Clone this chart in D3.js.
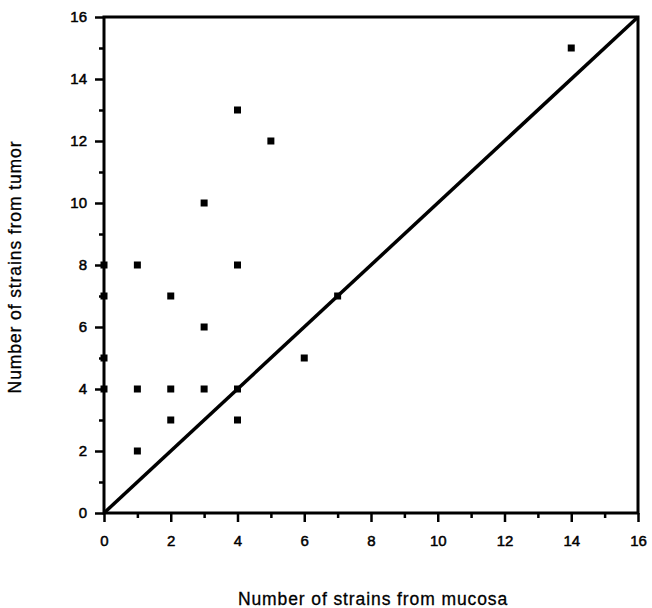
<!DOCTYPE html>
<html>
<head>
<meta charset="utf-8">
<script src="https://cdn.jsdelivr.net/npm/d3@7"></script>
<style>
  body { margin: 0; background: #fff; }
  text { font-family: "Liberation Sans", Arial, sans-serif; fill: #000; }
</style>
</head>
<body>
<div id="graph"></div>
<script>
// strains isolated from mucosa (x) vs from tumor (y)
const mucosa = [0, 0, 0, 0, 1, 1, 1, 2, 2, 2, 3, 3, 3, 4, 4, 4, 4, 5, 6, 7, 14];
const tumor  = [8, 7, 5, 4, 8, 4, 2, 7, 4, 3, 10, 6, 4, 13, 8, 4, 3, 12, 5, 7, 15];
const majorTicks = [0, 2, 4, 6, 8, 10, 12, 14, 16];
const minorTicks = [1, 3, 5, 7, 9, 11, 13, 15];

const width = 652, height = 608;
const margin = {left: 104, right: 14, top: 17, bottom: 95};

const svg = d3.select("#graph")
  .append("svg")
  .attr("width", width)
  .attr("height", height);

const x = d3.scaleLinear().domain([0, 16]).range([margin.left, width - margin.right]);
const y = d3.scaleLinear().domain([0, 16]).range([height - margin.bottom, margin.top]);

// minor ticks first, then major with labels
svg.append("g")
  .attr("transform", `translate(0,${y(0)})`)
  .call(d3.axisBottom(x).tickValues(minorTicks).tickSize(5).tickFormat(""))
  .call(g => g.select(".domain").remove())
  .selectAll("line").attr("stroke-width", 2.5);

svg.append("g")
  .attr("transform", `translate(${x(0)},0)`)
  .call(d3.axisLeft(y).tickValues(minorTicks).tickSize(5).tickFormat(""))
  .call(g => g.select(".domain").remove())
  .selectAll("line").attr("stroke-width", 2.5);

const xAxis = svg.append("g")
  .attr("transform", `translate(0,${y(0)})`)
  .call(d3.axisBottom(x).tickValues(majorTicks).tickSize(9).tickPadding(13))
  .call(g => g.select(".domain").remove());
xAxis.selectAll("line").attr("stroke-width", 2.5);
xAxis.selectAll("text")
  .attr("font-size", 15)
  .attr("stroke", "#000").attr("stroke-width", 0.5)
  .style("font-family", "Liberation Sans, Arial, sans-serif");

const yAxis = svg.append("g")
  .attr("transform", `translate(${x(0)},0)`)
  .call(d3.axisLeft(y).tickValues(majorTicks).tickSize(9).tickPadding(8))
  .call(g => g.select(".domain").remove());
yAxis.selectAll("line").attr("stroke-width", 2.5);
yAxis.selectAll("text")
  .attr("font-size", 15)
  .attr("stroke", "#000").attr("stroke-width", 0.5)
  .style("font-family", "Liberation Sans, Arial, sans-serif");

// frame
svg.append("rect")
  .attr("x", x(0))
  .attr("y", y(16))
  .attr("width", x(16) - x(0))
  .attr("height", y(0) - y(16))
  .attr("fill", "none")
  .attr("stroke", "#000")
  .attr("stroke-width", 3);

// line of identity
svg.append("line")
  .attr("x1", x(0)).attr("y1", y(0))
  .attr("x2", x(16)).attr("y2", y(16))
  .attr("stroke", "#000")
  .attr("stroke-width", 3.5);

const pts = mucosa.map((m, i) => ({m: m, t: tumor[i]}));
svg.append("g")
  .selectAll("rect")
  .data(pts)
  .enter()
  .append("rect")
  .attr("x", d => x(d.m) - 3.5)
  .attr("y", d => y(d.t) - 3.5)
  .attr("width", 7)
  .attr("height", 7)
  .attr("fill", "#000");

svg.append("text")
  .attr("x", (x(0) + x(16)) / 2 + 2)
  .attr("y", 605)
  .attr("text-anchor", "middle")
  .attr("font-size", 17.5)
  .attr("letter-spacing", 0.9)
  .attr("stroke", "#000").attr("stroke-width", 0.3)
  .text("Number of strains from mucosa");

svg.append("text")
  .attr("transform", `translate(21,${(y(0) + y(16)) / 2 + 2}) rotate(-90)`)
  .attr("text-anchor", "middle")
  .attr("font-size", 17.5)
  .attr("letter-spacing", 0.9)
  .attr("stroke", "#000").attr("stroke-width", 0.3)
  .text("Number of strains from tumor");
</script>
</body>
</html>
